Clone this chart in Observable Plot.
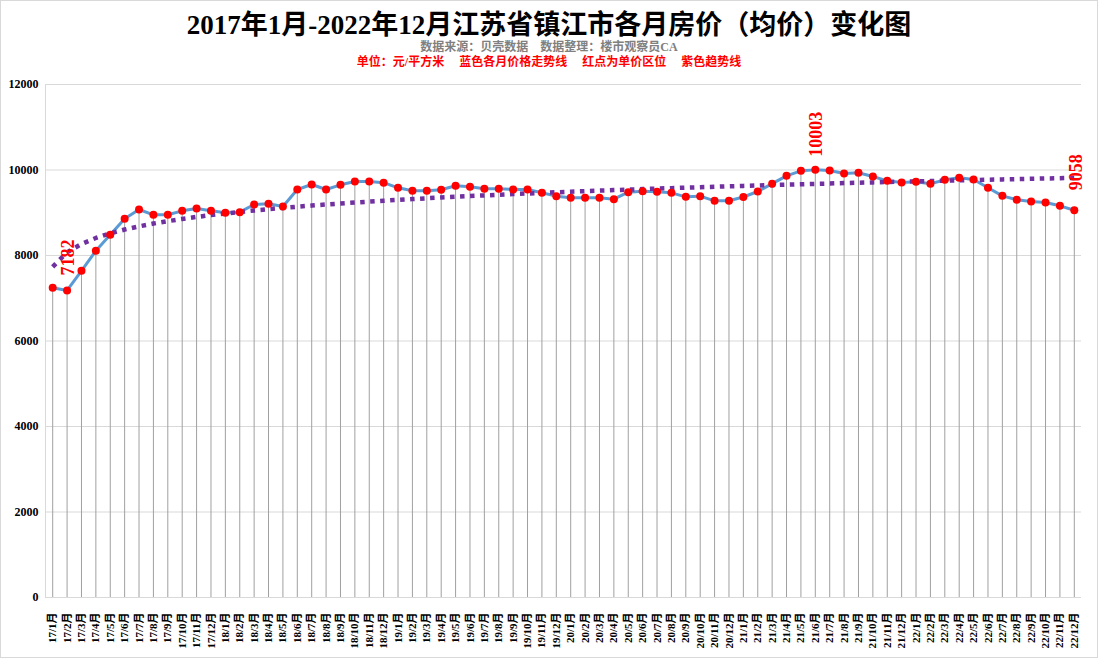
<!DOCTYPE html>
<html>
<head>
<meta charset="utf-8">
<script src="https://cdn.jsdelivr.net/npm/d3@7"></script>
<script src="https://cdn.jsdelivr.net/npm/@observablehq/plot@0.6"></script>
<style>
  html, body { margin: 0; padding: 0; background: #fff; }
  #wrap { position: relative; width: 1098px; height: 658px; overflow: hidden; }
  #border { position: absolute; left: 0; top: 0; width: 1098px; height: 658px; box-sizing: border-box; border: 1px solid #D9D9D9; pointer-events: none; }
  .hd { position: absolute; left: 0; width: 1098px; text-align: center; white-space: pre; font-weight: bold; }
  #title { top: 10px; font-size: 27px; line-height: 30px; color: #000; font-family: 'Liberation Serif', 'Noto Sans CJK SC', serif; }
  #sub1 { top: 40px; font-size: 12px; line-height: 14px; color: #808080; font-family: 'Liberation Serif', 'Noto Sans CJK SC', serif; }
  #sub2 { top: 55px; font-size: 12px; line-height: 14px; color: #FF0000; font-family: 'Liberation Serif', 'Noto Sans CJK SC', serif; }
  #chart { position: absolute; left: 0; top: 0; }
</style>
</head>
<body>
<div id="wrap">
  <div id="chart"></div>
  <div id="title" class="hd">2017年1月-2022年12月江苏省镇江市各月房价（均价）变化图</div>
  <div id="sub1" class="hd">数据来源：贝壳数据    数据整理：楼市观察员CA</div>
  <div id="sub2" class="hd">单位：元/平方米     蓝色各月价格走势线     红点为单价区位     紫色趋势线</div>
  <div id="border"></div>
</div>
<script>
// ---- data ----
const years = ["17", "18", "19", "20", "21", "22"];
const monthNums = [1, 2, 3, 4, 5, 6, 7, 8, 9, 10, 11, 12];
const months = years.flatMap(y => monthNums.map(m => `${y}/${m}月`));

const prices2017 = [7245, 7182, 7642, 8110, 8484, 8858, 9076, 8952, 8952, 9045, 9099, 9045];
const prices2018 = [8998, 9014, 9193, 9209, 9146, 9544, 9661, 9544, 9653, 9731, 9731, 9704];
const prices2019 = [9583, 9513, 9513, 9537, 9630, 9606, 9560, 9560, 9544, 9544, 9466, 9388];
const prices2020 = [9349, 9349, 9349, 9318, 9482, 9505, 9490, 9466, 9372, 9388, 9279, 9279];
const prices2021 = [9368, 9497, 9680, 9864, 9981, 10003, 9988, 9918, 9934, 9848, 9747, 9708];
const prices2022 = [9723, 9677, 9770, 9817, 9778, 9583, 9396, 9303, 9263, 9240, 9162, 9058];
const prices = [...prices2017, ...prices2018, ...prices2019, ...prices2020, ...prices2021, ...prices2022];

const labelledMonths = ["17/2月", "21/6月", "22/12月"];
const yTicks = [0, 2000, 4000, 6000, 8000, 10000, 12000];

// ---- derived table ----
const data = prices.map((v, i) => ({i, month: months[i], value: v}));

// logarithmic trend line (least squares of value on ln(month number)), as the spreadsheet trend line
const lx = data.map(d => Math.log(d.i + 1));
const mx = d3.mean(lx), my = d3.mean(prices);
const slope = d3.sum(lx, (v, k) => (v - mx) * (prices[k] - my)) / d3.sum(lx, v => (v - mx) ** 2);
const icpt = my - slope * mx;
const trend = data.map(d => ({i: d.i, value: icpt + slope * Math.log(d.i + 1)}));

const labelRows = data.filter(d => labelledMonths.includes(d.month));

const serif = "'Liberation Serif', 'Noto Sans CJK SC', serif";
const lab = {x: "i", y: "value", text: d => String(d.value), rotate: -90, textAnchor: "start", fill: "#FF0000", fontSize: 18, fontWeight: "bold", fontFamily: serif};

const chart = Plot.plot({
  width: 1098,
  height: 658,
  marginLeft: 45,
  marginRight: 17,
  marginTop: 84,
  marginBottom: 61,
  style: {fontFamily: serif, background: "transparent", overflow: "visible"},
  x: {type: "linear", domain: [-0.5, prices.length - 0.5]},
  y: {domain: [0, 12000]},
  marks: [
    Plot.gridY(yTicks, {stroke: "#D9D9D9", strokeOpacity: 1, strokeWidth: 1}),
    Plot.ruleX([-0.5], {stroke: "#D9D9D9", strokeWidth: 1}),
    Plot.ruleX(data, {x: "i", y1: 0, y2: "value", stroke: "#A0A0A0", strokeWidth: 1}),
    Plot.axisY(yTicks, {tickSize: 0, tickPadding: 7, fontSize: 12, fontWeight: "bold", fill: "#000", label: null, tickFormat: d => String(d)}),
    Plot.axisX(data.map(d => d.i), {tickSize: 0, tickPadding: 15, tickRotate: -90, fontSize: 11, fontWeight: "bold", fill: "#000", label: null, tickFormat: i => months[i]}),
    Plot.lineY(data, {x: "i", y: "value", stroke: "#5B9BD5", strokeWidth: 3, curve: "linear"}),
    Plot.lineY(trend, {x: "i", y: "value", stroke: "#7030A0", strokeWidth: 4.5, strokeDasharray: "4.5,5.5", strokeLinecap: "butt"}),
    Plot.dot(data, {x: "i", y: "value", r: 4, fill: "#FF0000", stroke: "none"}),
    Plot.text(labelRows.filter(d => d.month === "17/2月"), {...lab, dy: -15, dx: 1}),
    Plot.text(labelRows.filter(d => d.month === "21/6月"), {...lab, dy: -13, dx: 1}),
    Plot.text(labelRows.filter(d => d.month === "22/12月"), {...lab, dy: -20, dx: 2})
  ]
});
document.getElementById("chart").appendChild(chart);
</script>
</body>
</html>
